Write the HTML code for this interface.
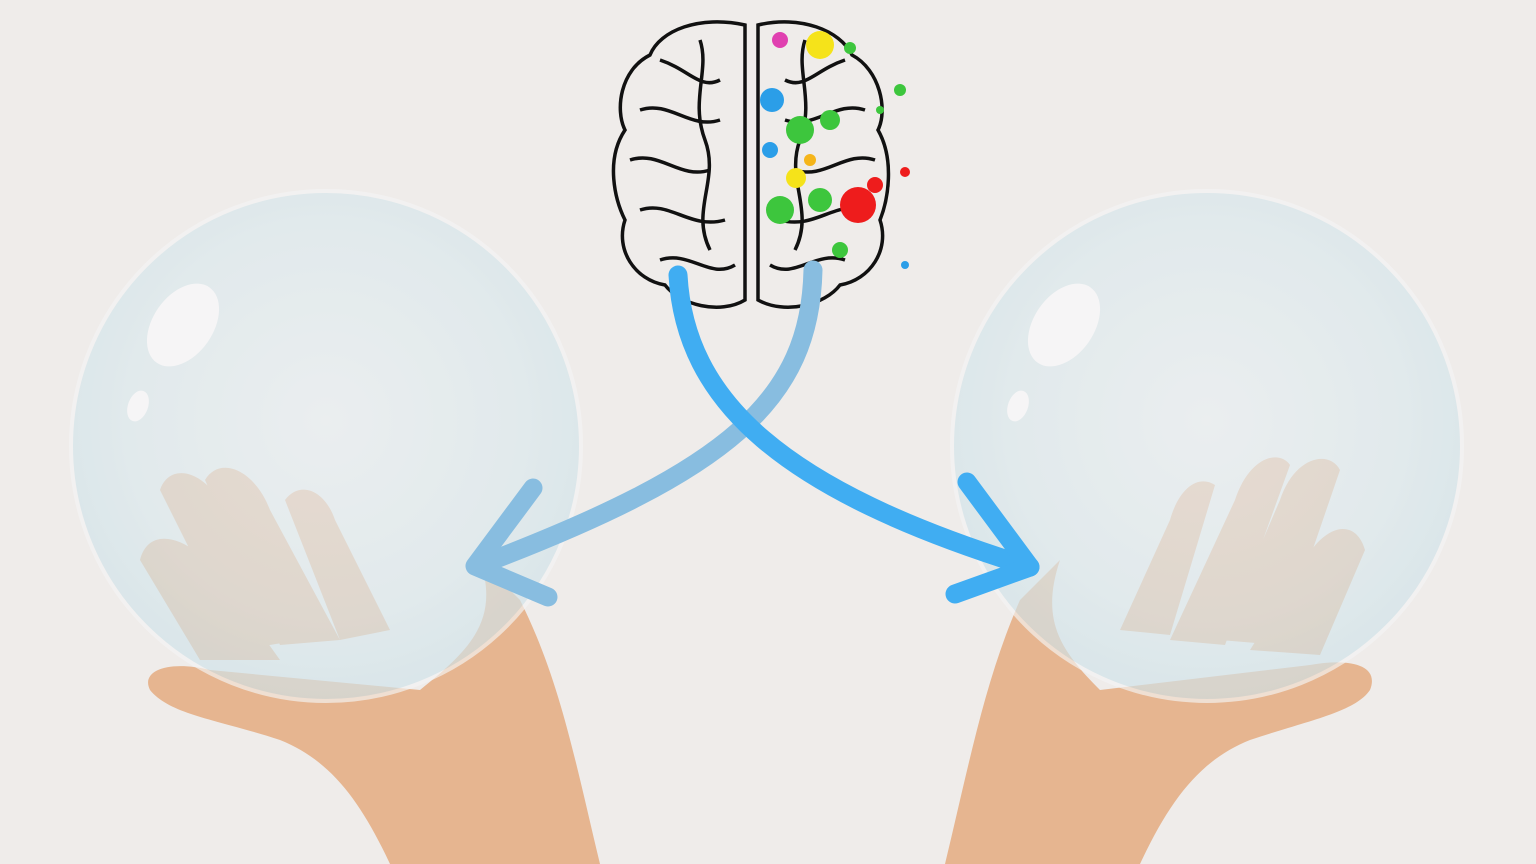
<!DOCTYPE html>
<html><head><meta charset="utf-8"><style>
html,body{margin:0;padding:0;background:#efecea;overflow:hidden}
svg{display:block}
</style></head><body>
<svg width="1536" height="864" viewBox="0 0 1536 864">
<defs>
<radialGradient id="sph" cx="50%" cy="45%" r="55%">
<stop offset="0%" stop-color="#e9f0f3"/><stop offset="70%" stop-color="#dbe9ee"/><stop offset="100%" stop-color="#cfe3ea"/>
</radialGradient>
</defs>
<rect width="1536" height="864" fill="#efecea"/>

<g>
<path d="M150,690 C140,670 170,660 210,670 L420,690 C470,650 500,620 480,560 L520,600 C560,680 575,760 600,864 L390,864 C360,800 330,760 280,740 C220,720 170,715 150,690 Z" fill="#e6b590"/>
<path d="M140,560 C150,520 200,540 230,590 L280,660 L200,660 Z M160,490 C170,460 210,470 230,520 L300,640 L240,650 Z M205,480 C220,455 255,470 270,510 L340,640 L280,645 Z M285,500 C300,480 325,490 335,520 L390,630 L340,640 Z" fill="#e6b590"/>
</g>
<g>
<path d="M1370,690 C1380,665 1350,658 1310,665 L1100,690 C1060,650 1040,620 1060,560 L1020,600 C985,680 970,760 945,864 L1140,864 C1170,800 1200,760 1250,740 C1310,720 1355,712 1370,690 Z" fill="#e6b590"/>
<path d="M1365,550 C1355,515 1320,525 1300,570 L1250,650 L1320,655 Z M1340,470 C1330,450 1295,455 1280,500 L1220,640 L1280,645 Z M1290,465 C1280,450 1250,455 1235,500 L1170,640 L1225,645 Z M1215,485 C1200,475 1180,485 1170,520 L1120,630 L1170,635 Z" fill="#e6b590"/>
</g>

<g>
<circle cx="326" cy="446" r="255" fill="url(#sph)" opacity="0.66" stroke="#f5f5f5" stroke-width="4"/>
<ellipse cx="183" cy="325" rx="30" ry="46" transform="rotate(35 183 325)" fill="#f6f5f6"/>
<ellipse cx="138" cy="406" rx="10" ry="16" transform="rotate(20 138 406)" fill="#f6f5f6"/>
</g>
<g>
<circle cx="1207" cy="446" r="255" fill="url(#sph)" opacity="0.66" stroke="#f5f5f5" stroke-width="4"/>
<ellipse cx="1064" cy="325" rx="30" ry="46" transform="rotate(35 1064 325)" fill="#f6f5f6"/>
<ellipse cx="1018" cy="406" rx="10" ry="16" transform="rotate(20 1018 406)" fill="#f6f5f6"/>
</g>

<g fill="none" stroke="#111" stroke-width="3.5">
<path d="M745,25 C700,15 660,30 650,55 C620,70 615,110 625,130 C605,160 615,200 625,220 C615,250 635,280 665,285 C680,305 720,315 745,300 Z"/>
<path d="M758,25 C800,15 840,30 852,55 C880,70 888,110 878,130 C895,160 888,200 880,220 C890,250 870,280 840,285 C825,305 785,315 758,300 Z"/>
<path d="M660,60 C690,70 700,90 720,80 M640,110 C670,100 690,130 720,120 M630,160 C660,150 680,180 710,170 M640,210 C670,200 690,230 725,220 M660,260 C690,250 710,280 735,265 M700,40 C710,70 690,100 705,140 C720,180 690,210 710,250"/>
<path d="M845,60 C815,70 805,90 785,80 M865,110 C835,100 815,130 785,120 M875,160 C845,150 825,180 795,170 M865,210 C835,200 815,230 780,220 M845,260 C815,250 795,280 770,265 M805,40 C795,70 815,100 800,140 C785,180 815,210 795,250"/>
</g>
<g>
<circle cx="820" cy="45" r="14" fill="#f5e31a"/><circle cx="850" cy="48" r="6" fill="#3dc63d"/>
<circle cx="780" cy="40" r="8" fill="#e040b0"/><circle cx="772" cy="100" r="12" fill="#2b9ee8"/>
<circle cx="800" cy="130" r="14" fill="#3dc63d"/><circle cx="830" cy="120" r="10" fill="#3dc63d"/>
<circle cx="796" cy="178" r="10" fill="#f5e31a"/><circle cx="780" cy="210" r="14" fill="#3dc63d"/>
<circle cx="820" cy="200" r="12" fill="#3dc63d"/><circle cx="858" cy="205" r="18" fill="#ee1c1c"/>
<circle cx="875" cy="185" r="8" fill="#ee1c1c"/><circle cx="905" cy="172" r="5" fill="#ee1c1c"/>
<circle cx="900" cy="90" r="6" fill="#3dc63d"/><circle cx="880" cy="110" r="4" fill="#3dc63d"/>
<circle cx="840" cy="250" r="8" fill="#3dc63d"/><circle cx="905" cy="265" r="4" fill="#2b9ee8"/>
<circle cx="770" cy="150" r="8" fill="#2b9ee8"/><circle cx="810" cy="160" r="6" fill="#f5b51a"/>
</g>

<g fill="none" stroke="#88bde0" stroke-width="19" stroke-linecap="round" stroke-linejoin="round">
<path d="M813,270 C810,400 730,470 480,565"/>
<path d="M533,488 L475,566 L548,597"/>
</g>
<g fill="none" stroke="#40adf2" stroke-width="19" stroke-linecap="round" stroke-linejoin="round">
<path d="M678,275 C685,400 780,490 1030,567"/>
<path d="M967,482 L1030,567 L955,594"/>
</g>
</svg>
</body></html>
